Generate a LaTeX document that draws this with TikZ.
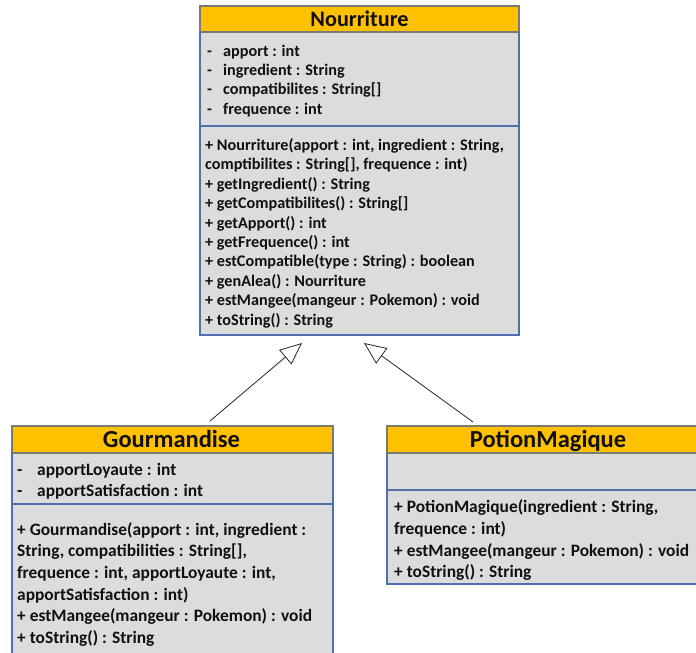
\documentclass[tikz,border=0pt]{standalone}
\usepackage{fontspec}
\setmainfont{Carlito}
\usetikzlibrary{arrows.meta}
\definecolor{titlefill}{HTML}{FFC000}
\definecolor{bodyfill}{HTML}{DCDCDC}
\definecolor{bordercol}{HTML}{4F6FAE}
\definecolor{titleborder}{HTML}{7A7A70}
\definecolor{txt}{HTML}{101010}
\tikzset{
  classbox/.style={draw=bordercol, fill=bodyfill, line width=1.3pt},
  titleband/.style={draw=titleborder, fill=titlefill, line width=1.3pt},
  divider/.style={draw=bordercol, line width=1.3pt},
  titletext/.style={font=\bfseries\fontsize{22.2}{26}\selectfont, text=txt, inner sep=0pt, anchor=base},
  bigtitle/.style={font=\bfseries\fontsize{24.5}{28}\selectfont, text=txt, inner sep=0pt, anchor=base},
  smalltext/.style={font=\bfseries\fontsize{16.2}{19}\selectfont, text=txt, inner sep=0pt, anchor=base west},
  bigtext/.style={font=\bfseries\fontsize{17.4}{20}\selectfont, text=txt, inner sep=0pt, anchor=base west},
  inherit/.style={draw=black!85, line width=0.8pt, -{Triangle[open, length=22pt, width=19pt, fill=white]}},
}
\begin{document}
\begin{tikzpicture}[x=1pt, y=-1pt]
\clip (0,0) rectangle (696,653);
\fill[white] (0,0) rectangle (696,653);

% ---------- Nourriture ----------
\path[classbox] (200,6) rectangle (519,335);
\path[titleband] (200,6) rectangle (519,32);
\draw[divider] (200,126) -- (519,126);
\draw[bordercol, line width=1.3pt] (200,32) -- (200,335) -- (519,335) -- (519,32);
\node[titletext] (Ntitle) at (359.5,26.5) {Nourriture};
\foreach \t [count=\i] in {{apport : int},{ingredient : String},{compatibilites : String[]},{frequence : int}}{
  \node[smalltext] (Nd\i) at (207,{56+19.4*(\i-1)}) {-};
  \node[smalltext] (Na\i) at (223,{56+19.4*(\i-1)}) {\t};
}
\foreach \t [count=\i] in {{+ Nourriture(apport : int, ingredient : String,},{comptibilites : String[], frequence : int)},{+ getIngredient() : String},{+ getCompatibilites() : String[]},{+ getApport() : int},{+ getFrequence() : int},{+ estCompatible(type : String) : boolean},{+ genAlea() : Nourriture},{+ estMangee(mangeur : Pokemon) : void},{+ toString() : String}}{
  \node[smalltext] (Nm\i) at (205,{150.5+19.4*(\i-1)}) {\t};
}

% ---------- Gourmandise ----------
\path[classbox] (12,426) rectangle (333,665);
\path[titleband] (12,426) rectangle (333,453);
\draw[divider] (12,504) -- (333,504);
\draw[bordercol, line width=1.3pt] (12,453) -- (12,665) (333,665) -- (333,453);
\node[bigtitle] (Gtitle) at (171.5,447.5) {Gourmandise};
\foreach \t [count=\i] in {{apportLoyaute : int},{apportSatisfaction : int}}{
  \node[bigtext] (Gd\i) at (17,{475+21*(\i-1)}) {-};
  \node[bigtext] (Ga\i) at (37,{475+21*(\i-1)}) {\t};
}
\foreach \t [count=\i] in {{+ Gourmandise(apport : int, ingredient :},{String, compatibilities : String[],},{frequence : int, apportLoyaute : int,},{apportSatisfaction : int)},{+ estMangee(mangeur : Pokemon) : void},{+ toString() : String}}{
  \node[bigtext] (Gm\i) at (17,{535+21.7*(\i-1)}) {\t};
}

% ---------- PotionMagique ----------
\path[classbox] (387,426) rectangle (710,584);
\path[titleband] (387,426) rectangle (710,453);
\draw[divider] (387,490) -- (710,490);
\draw[bordercol, line width=1.3pt] (387,453) -- (387,584) -- (710,584);
\node[bigtitle] (Ptitle) at (548,447.5) {PotionMagique};
\foreach \t [count=\i] in {{+ PotionMagique(ingredient : String,},{frequence : int)},{+ estMangee(mangeur : Pokemon) : void},{+ toString() : String}}{
  \node[bigtext] (Pm\i) at (394,{512.7+21.7*(\i-1)}) {\t};
}

% ---------- inheritance ----------
\coordinate (Gfrom) at (210,421);
\coordinate (Gto) at (302,343);
\coordinate (Pfrom) at (473,422);
\coordinate (Pto) at (364,343);
\draw[inherit] (Gfrom) -- (Gto);
\draw[inherit] (Pfrom) -- (Pto);
\end{tikzpicture}
\end{document}
